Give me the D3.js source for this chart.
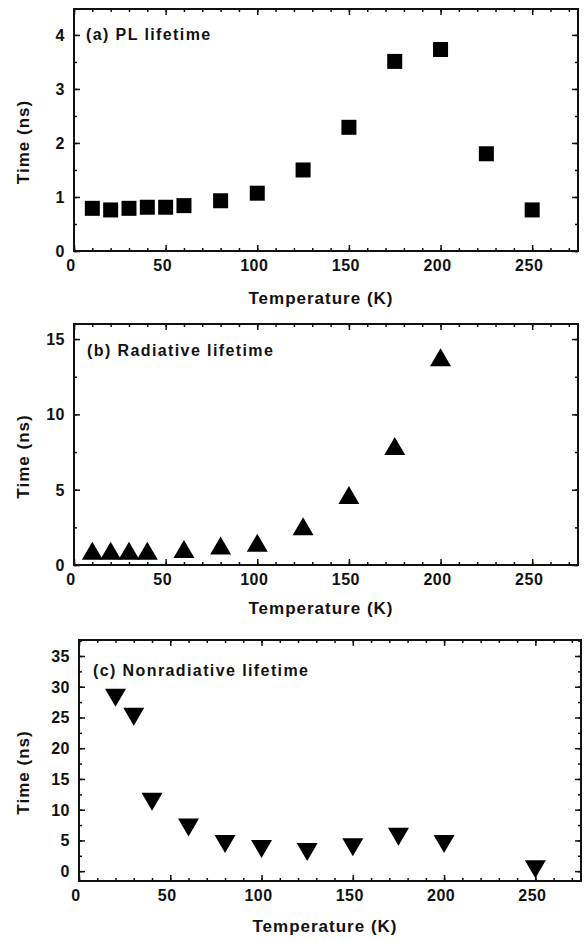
<!DOCTYPE html>
<html>
<head>
<meta charset="utf-8">
<script src="https://cdn.jsdelivr.net/npm/d3@7"></script>
<style>
  body { margin: 0; background: #fff; }
  text { font-family: "Liberation Sans", Arial, sans-serif; font-weight: bold; fill: #111; }
</style>
</head>
<body>
<svg width="585" height="941"></svg>
<script>
// temperatures (K)
var tempPL  = [10, 20, 30, 40, 50, 60, 80, 100, 125, 150, 175, 200, 225, 250];
var timePL  = [0.79, 0.76, 0.79, 0.81, 0.81, 0.84, 0.93, 1.07, 1.50, 2.29, 3.51, 3.73, 1.80, 0.76];

var tempRad = [10, 20, 30, 40, 60, 80, 100, 125, 150, 175, 200];
var timeRad = [0.95, 0.95, 0.95, 0.95, 1.07, 1.29, 1.47, 2.58, 4.64, 7.9, 13.8];

var tempNon = [20, 30, 40, 60, 80, 100, 125, 150, 175, 200, 250];
var timeNon = [28.2, 25.1, 11.3, 7.1, 4.4, 3.6, 3.1, 3.9, 5.6, 4.4, 0.3];

var xTicks = [0, 50, 100, 150, 200, 250];
var yTicksA = [0, 1, 2, 3, 4];
var yTicksB = [0, 5, 10, 15];
var yTicksC = [0, 5, 10, 15, 20, 25, 30, 35];

var svg = d3.select("svg");

var panels = [
  { label: "(a) PL lifetime", xs: tempPL, ys: timePL, marker: "square",
    left: 74, right: 578, top: 9, bottom: 251, ydom: [0, 4.48],
    yTicks: yTicksA, yMinor: 0.5, labelX: 86, labelY: 40, titleY: 304 },
  { label: "(b) Radiative lifetime", xs: tempRad, ys: timeRad, marker: "up",
    left: 74, right: 578, top: 324, bottom: 565, ydom: [0, 16],
    yTicks: yTicksB, yMinor: 2.5, labelX: 87, labelY: 356, titleY: 614 },
  { label: "(c) Nonradiative lifetime", xs: tempNon, ys: timeNon, marker: "down",
    left: 79, right: 581, top: 640, bottom: 881, ydom: [-1.6, 37.6],
    yTicks: yTicksC, yMinor: 2.5, labelX: 93, labelY: 676, titleY: 932 }
];

panels.forEach(function(p) {
  var x = d3.scaleLinear().domain([0, 275]).range([p.left, p.right]);
  var y = d3.scaleLinear().domain(p.ydom).range([p.bottom, p.top]);
  var g = svg.append("g");

  var xMinor = d3.range(0, 276, 10);
  var yMin = Math.ceil(p.ydom[0] / p.yMinor) * p.yMinor;
  var yMinorVals = d3.range(yMin, p.ydom[1], p.yMinor);

  function tickAxis(axis, scale, vals, size, tr) {
    var a = axis(scale).tickValues(vals).tickSize(size).tickFormat("");
    var s = g.append("g").attr("transform", tr).call(a);
    s.select(".domain").remove();
    s.selectAll("line").attr("stroke", "#111").attr("stroke-width", 1.5);
  }
  // minor + major ticks, pointing inward on all four sides
  tickAxis(d3.axisBottom, x, xMinor, -3, "translate(0," + p.bottom + ")");
  tickAxis(d3.axisBottom, x, xTicks, -6, "translate(0," + p.bottom + ")");
  tickAxis(d3.axisTop, x, xMinor, -3, "translate(0," + p.top + ")");
  tickAxis(d3.axisTop, x, xTicks, -6, "translate(0," + p.top + ")");
  tickAxis(d3.axisLeft, y, yMinorVals, -3, "translate(" + p.left + ",0)");
  tickAxis(d3.axisLeft, y, p.yTicks, -6, "translate(" + p.left + ",0)");
  tickAxis(d3.axisRight, y, yMinorVals, -3, "translate(" + p.right + ",0)");
  tickAxis(d3.axisRight, y, p.yTicks, -6, "translate(" + p.right + ",0)");

  g.append("rect")
    .attr("x", p.left).attr("y", p.top)
    .attr("width", p.right - p.left).attr("height", p.bottom - p.top)
    .attr("fill", "none").attr("stroke", "#111").attr("stroke-width", 2);

  // tick labels
  g.selectAll(".xl").data(xTicks).enter().append("text")
    .attr("x", function(d) { return x(d) - 3; })
    .attr("y", p.bottom + 20)
    .attr("text-anchor", "middle")
    .style("font-size", "16px")
    .style("letter-spacing", "0.5px")
    .text(function(d) { return d; });

  g.selectAll(".yl").data(p.yTicks).enter().append("text")
    .attr("x", p.left - 9)
    .attr("y", function(d) { return y(d) + 6; })
    .attr("text-anchor", "end")
    .style("font-size", "16px")
    .style("letter-spacing", "0.5px")
    .text(function(d) { return d; });

  // axis titles
  g.append("text")
    .attr("x", (p.left + p.right) / 2 - 5)
    .attr("y", p.titleY)
    .attr("text-anchor", "middle")
    .style("font-size", "17px")
    .style("letter-spacing", "1px")
    .text("Temperature (K)");

  g.append("text")
    .attr("transform", "translate(29," + ((p.top + p.bottom) / 2 + 12) + ") rotate(-90)")
    .attr("text-anchor", "middle")
    .style("font-size", "17px")
    .style("letter-spacing", "1px")
    .text("Time (ns)");

  g.append("text")
    .attr("x", p.labelX).attr("y", p.labelY)
    .style("font-size", "16px")
    .style("letter-spacing", "1.4px")
    .text(p.label);

  // markers
  var pts = p.xs.map(function(t, i) { return [t, p.ys[i]]; });
  if (p.marker === "square") {
    g.selectAll(".m").data(pts).enter().append("rect")
      .attr("x", function(d) { return x(d[0]) - 7.5; })
      .attr("y", function(d) { return y(d[1]) - 7.5; })
      .attr("width", 15).attr("height", 15)
      .attr("fill", "#000");
  } else {
    var w = 10.5, h = 9;
    var sgn = p.marker === "up" ? 1 : -1;
    g.selectAll(".m").data(pts).enter().append("path")
      .attr("d", function(d) {
        var cx = x(d[0]), cy = y(d[1]);
        return "M" + cx + "," + (cy - sgn * h) +
               "L" + (cx + w) + "," + (cy + sgn * h) +
               "L" + (cx - w) + "," + (cy + sgn * h) + "Z";
      })
      .attr("fill", "#000");
  }
});
</script>
</body>
</html>
